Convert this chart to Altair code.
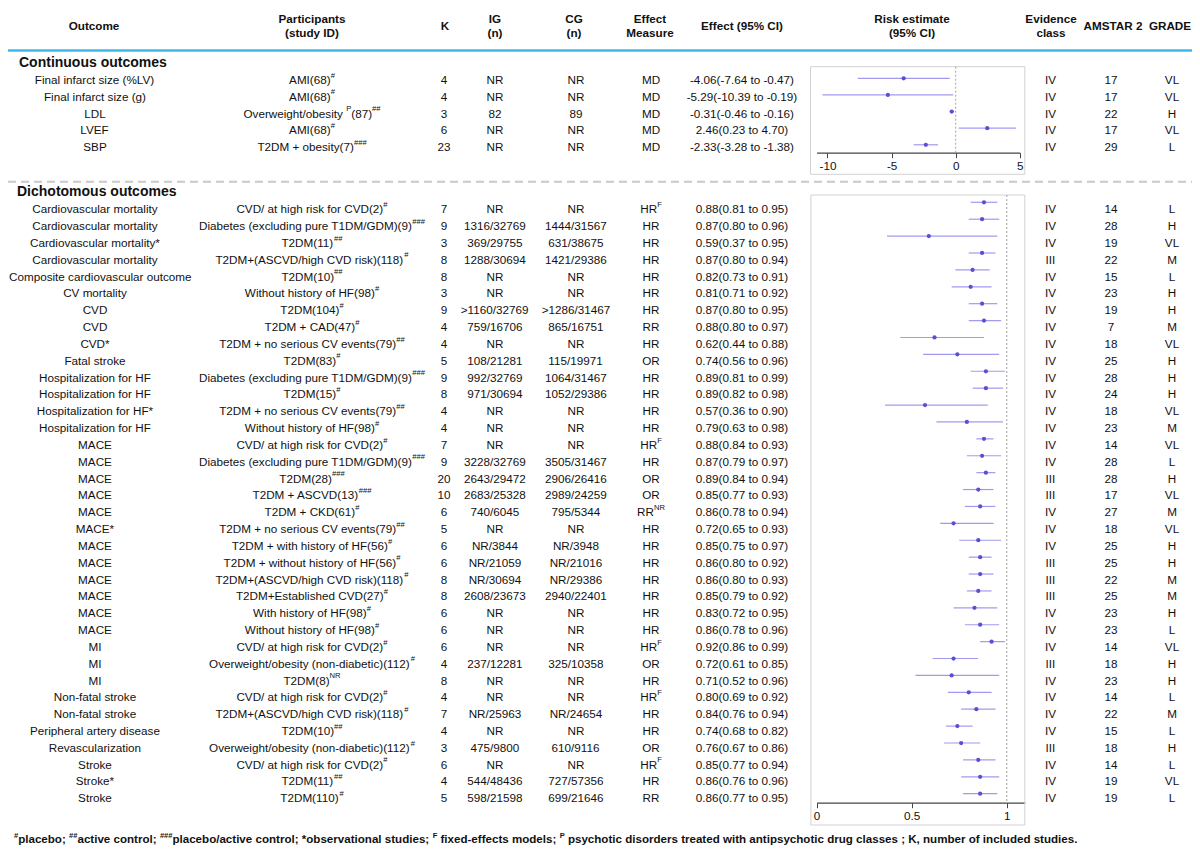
import altair as alt
import pandas as pd

# ---------------- data: continuous outcomes ----------------
cont_outcome = ["Final infarct size (%LV)", "Final infarct size (g)", "LDL", "LVEF", "SBP"]
cont_participants = ["AMI(68){#}", "AMI(68){#}", "Overweight/obesity {P}(87){##}",
                     "AMI(68){#}", "T2DM + obesity(7){###}"]
cont_k = [4, 4, 3, 6, 23]
cont_ig = ["NR", "NR", "82", "NR", "NR"]
cont_cg = ["NR", "NR", "89", "NR", "NR"]
cont_measure = ["MD", "MD", "MD", "MD", "MD"]
cont_est = [-4.06, -5.29, -0.31, 2.46, -2.33]
cont_lo = [-7.64, -10.39, -0.46, 0.23, -3.28]
cont_hi = [-0.47, -0.19, -0.16, 4.70, -1.38]
cont_evidence = ["IV", "IV", "IV", "IV", "IV"]
cont_amstar = [17, 17, 22, 17, 29]
cont_grade = ["VL", "VL", "H", "VL", "L"]

# ---------------- data: dichotomous outcomes ----------------
dich_outcome = [
    "Cardiovascular mortality", "Cardiovascular mortality", "Cardiovascular mortality*",
    "Cardiovascular mortality", "Composite cardiovascular outcome", "CV mortality",
    "CVD", "CVD", "CVD*", "Fatal stroke", "Hospitalization for HF", "Hospitalization for HF",
    "Hospitalization for HF*", "Hospitalization for HF", "MACE", "MACE", "MACE", "MACE",
    "MACE", "MACE*", "MACE", "MACE", "MACE", "MACE", "MACE", "MACE", "MI", "MI", "MI",
    "Non-fatal stroke", "Non-fatal stroke", "Peripheral artery disease", "Revascularization",
    "Stroke", "Stroke*", "Stroke"]
dich_participants = [
    "CVD/ at high risk for CVD(2){#}", "Diabetes (excluding pure T1DM/GDM)(9){###}",
    "T2DM(11){##}", "T2DM+(ASCVD/high CVD risk)(118){#}", "T2DM(10){##}",
    "Without history of HF(98){#}", "T2DM(104){#}", "T2DM + CAD(47){#}",
    "T2DM + no serious CV events(79){##}", "T2DM(83){#}",
    "Diabetes (excluding pure T1DM/GDM)(9){###}", "T2DM(15){#}",
    "T2DM + no serious CV events(79){##}", "Without history of HF(98){#}",
    "CVD/ at high risk for CVD(2){#}", "Diabetes (excluding pure T1DM/GDM)(9){###}",
    "T2DM(28){###}", "T2DM + ASCVD(13){###}", "T2DM + CKD(61){#}",
    "T2DM + no serious CV events(79){##}", "T2DM + with history of HF(56){#}",
    "T2DM + without history of HF(56){#}", "T2DM+(ASCVD/high CVD risk)(118){#}",
    "T2DM+Established CVD(27){#}", "With history of HF(98){#}",
    "Without history of HF(98){#}", "CVD/ at high risk for CVD(2){#}",
    "Overweight/obesity (non-diabetic)(112){#}", "T2DM(8){NR}",
    "CVD/ at high risk for CVD(2){#}", "T2DM+(ASCVD/high CVD risk)(118){#}",
    "T2DM(10){##}", "Overweight/obesity (non-diabetic)(112){#}",
    "CVD/ at high risk for CVD(2){#}", "T2DM(11){##}", "T2DM(110){#}"]
dich_k = [7, 9, 3, 8, 8, 3, 9, 4, 4, 5, 9, 8, 4, 4, 7, 9, 20, 10, 6, 5, 6, 6, 8, 8, 6, 6,
          6, 4, 8, 4, 7, 4, 3, 6, 4, 5]
dich_ig = ["NR", "1316/32769", "369/29755", "1288/30694", "NR", "NR", ">1160/32769",
           "759/16706", "NR", "108/21281", "992/32769", "971/30694", "NR", "NR", "NR",
           "3228/32769", "2643/29472", "2683/25328", "740/6045", "NR", "NR/3844",
           "NR/21059", "NR/30694", "2608/23673", "NR", "NR", "NR", "237/12281", "NR",
           "NR", "NR/25963", "NR", "475/9800", "NR", "544/48436", "598/21598"]
dich_cg = ["NR", "1444/31567", "631/38675", "1421/29386", "NR", "NR", ">1286/31467",
           "865/16751", "NR", "115/19971", "1064/31467", "1052/29386", "NR", "NR", "NR",
           "3505/31467", "2906/26416", "2989/24259", "795/5344", "NR", "NR/3948",
           "NR/21016", "NR/29386", "2940/22401", "NR", "NR", "NR", "325/10358", "NR",
           "NR", "NR/24654", "NR", "610/9116", "NR", "727/57356", "699/21646"]
dich_measure = ["HR{F}", "HR", "HR", "HR", "HR", "HR", "HR", "RR", "HR", "OR", "HR", "HR",
                "HR", "HR", "HR{F}", "HR", "OR", "OR", "RR{NR}", "HR", "HR", "HR", "HR",
                "HR", "HR", "HR", "HR{F}", "OR", "HR", "HR{F}", "HR", "HR", "OR", "HR{F}",
                "HR", "RR"]
dich_est = [0.88, 0.87, 0.59, 0.87, 0.82, 0.81, 0.87, 0.88, 0.62, 0.74, 0.89, 0.89, 0.57,
            0.79, 0.88, 0.87, 0.89, 0.85, 0.86, 0.72, 0.85, 0.86, 0.86, 0.85, 0.83, 0.86,
            0.92, 0.72, 0.71, 0.80, 0.84, 0.74, 0.76, 0.85, 0.86, 0.86]
dich_lo = [0.81, 0.80, 0.37, 0.80, 0.73, 0.71, 0.80, 0.80, 0.44, 0.56, 0.81, 0.82, 0.36,
           0.63, 0.84, 0.79, 0.84, 0.77, 0.78, 0.65, 0.75, 0.80, 0.80, 0.79, 0.72, 0.78,
           0.86, 0.61, 0.52, 0.69, 0.76, 0.68, 0.67, 0.77, 0.76, 0.77]
dich_hi = [0.95, 0.96, 0.95, 0.94, 0.91, 0.92, 0.95, 0.97, 0.88, 0.96, 0.99, 0.98, 0.90,
           0.98, 0.93, 0.97, 0.94, 0.93, 0.94, 0.93, 0.97, 0.92, 0.93, 0.92, 0.95, 0.96,
           0.99, 0.85, 0.96, 0.92, 0.94, 0.82, 0.86, 0.94, 0.96, 0.95]
dich_evidence = ["IV", "IV", "IV", "III", "IV", "IV", "IV", "IV", "IV", "IV", "IV", "IV",
                 "IV", "IV", "IV", "IV", "III", "III", "IV", "IV", "IV", "III", "III", "III",
                 "IV", "IV", "IV", "III", "IV", "IV", "IV", "IV", "III", "IV", "IV", "IV"]
dich_amstar = [14, 28, 19, 22, 15, 23, 19, 7, 18, 25, 28, 24, 18, 23, 14, 28, 28, 17, 27,
               18, 25, 25, 22, 25, 23, 23, 14, 18, 23, 14, 22, 15, 18, 14, 19, 19]
dich_grade = ["L", "H", "VL", "M", "L", "H", "H", "M", "VL", "H", "H", "H", "VL", "M", "VL",
              "L", "H", "VL", "M", "VL", "H", "H", "M", "M", "H", "L", "VL", "H", "H", "L",
              "M", "L", "H", "L", "VL", "L"]

header_texts = ["Outcome", "Participants\n(study ID)", "K", "IG\n(n)", "CG\n(n)",
                "Effect\nMeasure", "Effect (95% CI)", "Risk estimate\n(95% CI)",
                "Evidence\nclass", "AMSTAR 2", "GRADE"]
cont_ticks = [-10, -5, 0, 5]
dich_ticks = [0, 0.5, 1]
footer_text = ("{#}placebo; {##}active control; {###}placebo/active control; "
               "*observational studies; {F} fixed-effects models; {P} psychotic disorders "
               "treated with antipsychotic drug classes ; K, number of included studies.")

# ---------------- layout / style ----------------
W, H = 1184, 843
FONT = "Liberation Sans"
FS = 11.7
SUP = 7.6
TXT = "#111111"
PT_COLOR = "#5a4fd4"
CI_COLOR = "#9088ea"

COL_X = [87, 304, 436, 487, 568, 643, 734, 1042.5, 1103, 1164]
HEAD_X = [86, 304, 437, 487, 566, 642, 734, 904, 1043, 1105, 1162]

REG = dict(zip("ABCDEFGHIJKLMNOPQRSTUVWXYZ",
               [667, 667, 722, 722, 667, 611, 778, 722, 278, 500, 667, 556, 833, 722, 778,
                667, 778, 722, 667, 611, 722, 667, 944, 667, 667, 611]))
REG.update(zip("abcdefghijklmnopqrstuvwxyz",
               [556, 556, 500, 556, 556, 278, 556, 556, 222, 222, 500, 222, 833, 556, 556,
                556, 556, 333, 500, 278, 556, 500, 722, 500, 500, 500]))
REG.update({c: 556 for c in "0123456789"})
REG.update({" ": 278, "(": 333, ")": 333, "/": 278, "+": 584, "-": 333, ".": 278,
            "*": 389, "#": 556, ">": 584, "%": 889, ",": 278, ";": 278, ":": 278})
BOLD = dict(zip("ABCDEFGHIJKLMNOPQRSTUVWXYZ",
                [722, 722, 722, 722, 667, 611, 778, 722, 278, 556, 722, 611, 833, 722, 778,
                 667, 778, 722, 667, 611, 722, 667, 944, 667, 667, 611]))
BOLD.update(zip("abcdefghijklmnopqrstuvwxyz",
                [556, 611, 556, 611, 556, 333, 611, 611, 278, 278, 556, 278, 889, 611, 611,
                 611, 611, 389, 556, 333, 611, 556, 778, 556, 556, 500]))
BOLD.update({c: 556 for c in "0123456789"})
BOLD.update({" ": 278, "(": 333, ")": 333, "/": 278, "+": 584, "-": 333, ".": 278,
             "*": 389, "#": 556, ">": 584, "%": 889, ",": 278, ";": 333, ":": 333})


def parse(s):
    segs, buf, i = [], "", 0
    while i < len(s):
        if s[i] == "{":
            j = s.index("}", i)
            if buf:
                segs.append((buf, False))
                buf = ""
            segs.append((s[i + 1:j], True))
            i = j + 1
        else:
            buf += s[i]
            i += 1
    if buf:
        segs.append((buf, False))
    return segs


def tw(text, size, bold=False):
    table = BOLD if bold else REG
    return sum(table.get(c, 556) for c in text) / 1000.0 * size


def layout(cell, anchor, row, center=True, bold=False, fs=FS, sfs=SUP):
    segs = parse(str(cell))
    widths = [tw(t, sfs if s else fs, bold) for t, s in segs]
    x = anchor - sum(widths) / 2 if center else anchor
    x = max(x, 1.0)  # keep text inside the drawing area
    out = []
    for (t, s), w in zip(segs, widths):
        lead = len(t) - len(t.lstrip(" "))
        xs = x + tw(" " * lead, sfs if s else fs, bold)
        if t.strip():
            out.append(dict(row=row, x=xs, text=t.strip(), sup=s))
        x += w
    return out


def section_cells(cols):
    cells = []
    n = len(cols[0])
    for i in range(n):
        for ci, col in enumerate(cols):
            cells += layout(col[i], COL_X[ci], i)
    return cells


def eff(e, l, h):
    return [f"{a:.2f}({b:.2f} to {c:.2f})" for a, b, c in zip(e, l, h)]


def text_layers(cells, yscale, bold=False, fs=FS, sfs=SUP, ychan=None):
    df = pd.DataFrame(cells)
    base = alt.Chart(df)
    y = ychan if ychan is not None else alt.Y("row:Q", scale=yscale, axis=None)
    common = dict(align="left", baseline="middle", font=FONT, color=TXT,
                  fontWeight="bold" if bold else "normal")
    normal = base.transform_filter("!datum.sup").mark_text(fontSize=fs, **common).encode(
        x=alt.X("x:Q", scale=None), y=y, text="text:N")
    sup = base.transform_filter("datum.sup").mark_text(fontSize=sfs, dy=-4.3, **common).encode(
        x=alt.X("x:Q", scale=None), y=y, text="text:N")
    return [normal, sup]


one = pd.DataFrame({"d": [0]})
layers = []

# header rule and dashed separator
layers.append(alt.Chart(one).mark_rule(color="#3db8ec", strokeWidth=2.6).encode(
    x=alt.value(0), x2=alt.value(W), y=alt.value(42.5)))
layers.append(alt.Chart(one).mark_rule(color="#c9c9c9", strokeWidth=2, strokeDash=[8, 5]).encode(
    x=alt.value(0), x2=alt.value(W), y=alt.value(173.7)))

# forest frames
layers.append(alt.Chart(one).mark_rect(fillOpacity=0, stroke="#d2d2d2", strokeWidth=1).encode(
    x=alt.value(802.5), x2=alt.value(1016.8), y=alt.value(58.7), y2=alt.value(166.3)))
layers.append(alt.Chart(one).mark_rect(fillOpacity=0, stroke="#d2d2d2", strokeWidth=1).encode(
    x=alt.value(802.9), x2=alt.value(1016.8), y=alt.value(187), y2=alt.value(817)))

axis_style = dict(orient="bottom", title=None, grid=False, domainColor="#444444",
                  domainWidth=1.3, tickColor="#444444", tickSize=5, labelFont=FONT,
                  labelFontSize=FS, labelColor=TXT, labelPadding=3, labelFlush=False,
                  labelExpr="datum.value < 0 ? '-' + abs(datum.value) : '' + datum.value")

# continuous forest
cdf = pd.DataFrame({"row": list(range(len(cont_est))), "est": cont_est, "lo": cont_lo, "hi": cont_hi})
xc = alt.Scale(domain=[-10.85, 5], range=[808.6, 1011.8], nice=False, zero=False)
ycf = alt.Scale(domain=[0, len(cont_est) - 1], range=[70.3, 136.8])
c_axis = alt.Axis(values=cont_ticks, offset=144.7 - H, **axis_style)
c_ref = alt.Chart(pd.DataFrame({"v": [0]})).mark_rule(color="#8a8a8a", strokeWidth=0.8,
                                                      strokeDash=[2, 2]).encode(
    x=alt.X("v:Q", scale=xc, axis=c_axis),
    y=alt.value(58.7), y2=alt.value(144.7))
c_ci = alt.Chart(cdf).mark_rule(color=CI_COLOR, strokeWidth=1.2, opacity=0.85).encode(
    x=alt.X("lo:Q", scale=xc, axis=c_axis), x2="hi:Q", y=alt.Y("row:Q", scale=ycf, axis=None))
c_pt = alt.Chart(cdf).mark_circle(color=PT_COLOR, size=18, opacity=1).encode(
    x=alt.X("est:Q", scale=xc, axis=c_axis), y=alt.Y("row:Q", scale=ycf, axis=None))
layers.append(alt.layer(c_ref, c_ci, c_pt))

# dichotomous forest
ddf = pd.DataFrame({"row": list(range(len(dich_est))), "est": dich_est, "lo": dich_lo, "hi": dich_hi})
xd = alt.Scale(domain=[0, 1.0946], range=[808.6, 1016.8], nice=False, zero=False)
ydf = alt.Scale(domain=[0, len(dich_est) - 1], range=[194.3, 785.7])
d_axis = alt.Axis(values=dich_ticks, offset=794.7 - H, **axis_style)
d_ref = alt.Chart(pd.DataFrame({"v": [1]})).mark_rule(color="#8a8a8a", strokeWidth=0.8,
                                                      strokeDash=[2, 2]).encode(
    x=alt.X("v:Q", scale=xd, axis=d_axis),
    y=alt.value(187), y2=alt.value(794.7))
d_ci = alt.Chart(ddf).mark_rule(color=CI_COLOR, strokeWidth=1.2, opacity=0.85).encode(
    x=alt.X("lo:Q", scale=xd, axis=d_axis), x2="hi:Q", y=alt.Y("row:Q", scale=ydf, axis=None))
d_pt = alt.Chart(ddf).mark_circle(color=PT_COLOR, size=18, opacity=1).encode(
    x=alt.X("est:Q", scale=xd, axis=d_axis), y=alt.Y("row:Q", scale=ydf, axis=None))
layers.append(alt.layer(d_ref, d_ci, d_pt))

# table text: continuous
cont_cols = [cont_outcome, cont_participants, cont_k, cont_ig, cont_cg, cont_measure,
             eff(cont_est, cont_lo, cont_hi), cont_evidence, cont_amstar, cont_grade]
yct = alt.Scale(domain=[0, len(cont_est) - 1], range=[71.8, 139.3])
layers += text_layers(section_cells(cont_cols), yct)

# table text: dichotomous
dich_cols = [dich_outcome, dich_participants, dich_k, dich_ig, dich_cg, dich_measure,
             eff(dich_est, dich_lo, dich_hi), dich_evidence, dich_amstar, dich_grade]
ydt = alt.Scale(domain=[0, len(dich_est) - 1], range=[201.3, 790.3])
layers += text_layers(section_cells(dich_cols), ydt)

# header
hcells = []
for t, x in zip(header_texts, HEAD_X):
    lines = t.split("\n")
    if len(lines) == 1:
        hcells.append(dict(x=x, y=18.3, text=lines[0]))
    else:
        hcells.append(dict(x=x, y=11.3, text=lines[0]))
        hcells.append(dict(x=x, y=25.3, text=lines[1]))
layers.append(alt.Chart(pd.DataFrame(hcells)).mark_text(
    align="center", baseline="middle", font=FONT, fontSize=FS, fontWeight="bold", color=TXT).encode(
    x=alt.X("x:Q", scale=None), y=alt.Y("y:Q", scale=None), text="text:N"))

# section titles
titles = pd.DataFrame({"x": [11, 9], "y": [55, 183.7],
                       "text": ["Continuous outcomes", "Dichotomous outcomes"]})
layers.append(alt.Chart(titles).mark_text(
    align="left", baseline="middle", font=FONT, fontSize=14, fontWeight="bold", color=TXT).encode(
    x=alt.X("x:Q", scale=None), y=alt.Y("y:Q", scale=None), text="text:N"))

# footer
fsegs = parse(footer_text)
fw = sum(tw(t, 1.0, True) * (0.65 if s else 1.0) for t, s in fsegs)
ffs = 1064.0 / fw
fcells = layout(footer_text, 6, 0, center=False, bold=True, fs=ffs, sfs=ffs * 0.65)
layers += text_layers(fcells, None, bold=True, fs=ffs, sfs=ffs * 0.65, ychan=alt.value(832))

chart = alt.layer(*layers).resolve_scale(x="independent", y="independent").properties(
    width=W, height=H, autosize=alt.AutoSizeParams(type="none"), padding=0
).configure_view(strokeWidth=0)

chart.save("out.html", embed_options={"renderer": "svg", "actions": False})
